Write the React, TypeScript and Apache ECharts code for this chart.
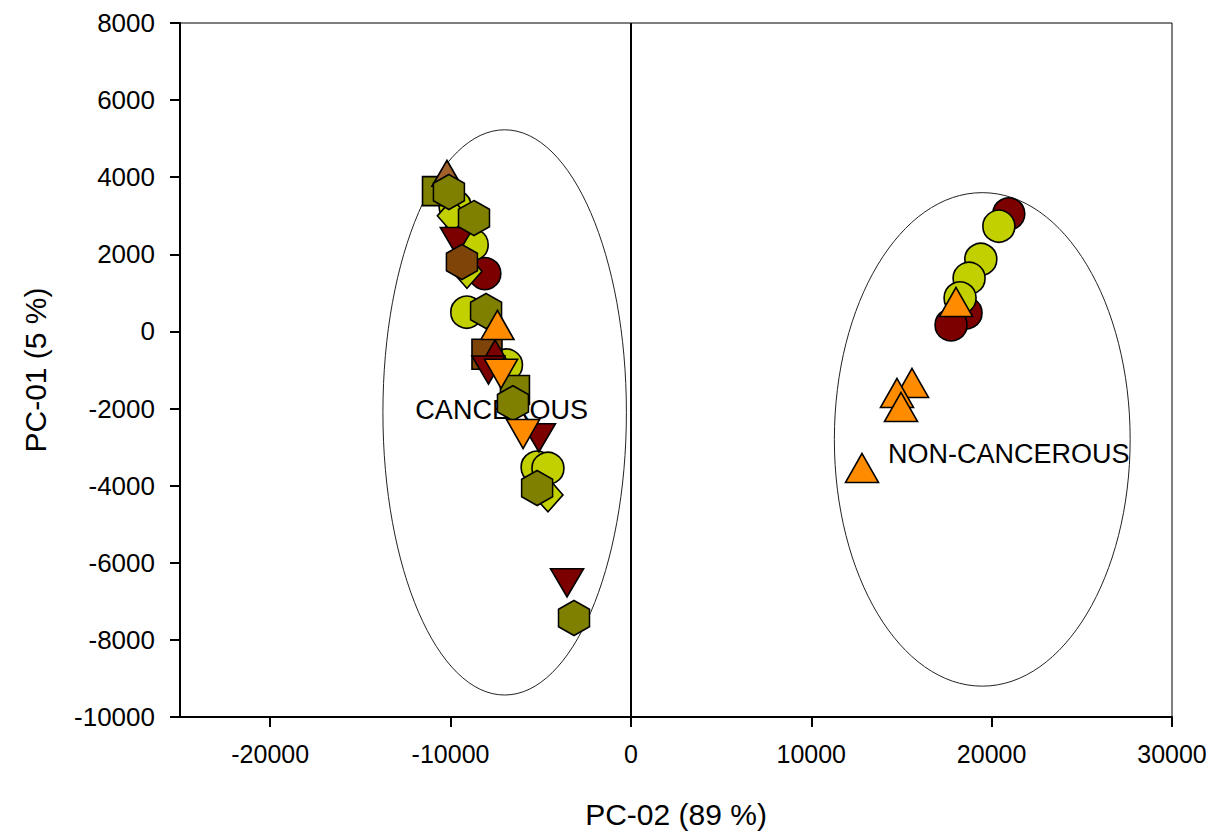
import React, { useEffect, useRef } from "react";
import * as echarts from "echarts";

// ---- data (PC-02 on x, PC-01 on y) ----
const xTickValues = [-20000, -10000, 0, 10000, 20000, 30000];

const darkRedCircles = [[-8100, 1500], [20950, 3050], [18580, 480], [17750, 170]];
const yellowGreenCircles = [
  [-9750, 3250], [-8800, 2250], [-9100, 500], [-6900, -870], [-5200, -3520], [-4600, -3550],
  [20400, 2730], [19400, 1870], [18750, 1380], [18250, 870],
];
const oliveSquares = [[-10750, 3640], [-6430, -1520]];
const brownSquares = [[-7980, -590]];
const darkRedDiamonds = [[-9590, 2630]];
const yellowGreenDiamonds = [[-9900, 3000], [-9090, 1560], [-4600, -4240]];
const brownTrianglesUp = [[-10200, 4100]];
const darkRedTrianglesUp = [[-7530, -560]];
const darkRedTrianglesDown = [[-9650, 2330], [-7900, -1000], [-5100, -2760], [-3540, -6520]];
const oliveHexagons = [[-10090, 3615], [-8700, 2940], [-8030, 530], [-6540, -1860], [-5200, -4060], [-3155, -7433]];
const brownHexagons = [[-9370, 1800]];
const orangeTrianglesUp = [[-7400, 170], [18025, 763], [15585, -1338], [14753, -1597], [14975, -1960], [12813, -3542]];
const orangeTrianglesDown = [[-7200, -1100], [-5980, -2660]];

// group ellipses: [centerX, centerY, radiusX, radiusY]
const groupEllipses = [[-7000, -2100, 6750, 7330], [19480, -2800, 8200, 6400]];
const groupLabels = [
  { name: "CANCEROUS", value: [-11950, -2050] },
  { name: "NON-CANCEROUS", value: [14250, -3180] },
];

const COLORS = {
  darkRed: "#7d0000",
  yellowGreen: "#c2d000",
  olive: "#7f7f00",
  brown: "#7f4508",
  orange: "#ff8c00",
};

const HEX = "path://M50,0 L93.3,25 L93.3,75 L50,100 L6.7,75 L6.7,25 Z";
const FONT = "Liberation Sans, Arial, sans-serif";

function scatter(name: string, data: number[][], color: string, symbol: string, size: any, rotate = 0) {
  return {
    name,
    type: "scatter",
    data,
    symbol,
    symbolSize: size,
    symbolRotate: rotate,
    z: 3,
    itemStyle: { color, borderColor: "#000", borderWidth: 1.6, opacity: 1 },
    emphasis: { disabled: true },
  };
}

export default function App() {
  const ref = useRef<HTMLDivElement>(null);
  useEffect(() => {
    if (!ref.current) return;
    const chart = echarts.init(ref.current, undefined, { renderer: "svg" });
    chart.setOption({
      animation: false,
      backgroundColor: "#fff",
      grid: { left: 180, right: 52, top: 23, bottom: 117, show: true, borderColor: "#000", borderWidth: 1, backgroundColor: "transparent" },
      xAxis: {
        type: "value",
        min: -25000,
        max: 30000,
        splitLine: { show: false },
        axisLine: { onZero: false, lineStyle: { color: "#000", width: 2 } },
        axisTick: { show: true, inside: false, length: 10, customValues: xTickValues, lineStyle: { color: "#000", width: 2 } },
        axisLabel: { customValues: xTickValues, color: "#000", fontSize: 25, fontFamily: FONT, margin: 24, formatter: (v: number) => String(v) },
        name: "PC-02 (89 %)",
        nameLocation: "middle",
        nameGap: 82,
        nameTextStyle: { color: "#000", fontSize: 30, fontFamily: FONT },
      },
      yAxis: {
        type: "value",
        min: -10000,
        max: 8000,
        interval: 2000,
        splitLine: { show: false },
        axisLine: { onZero: false, lineStyle: { color: "#000", width: 2 } },
        axisTick: { show: true, inside: false, length: 10, lineStyle: { color: "#000", width: 2 } },
        axisLabel: { color: "#000", fontSize: 26, fontFamily: FONT, margin: 25, formatter: (v: number) => String(v) },
        name: "PC-01 (5 %)",
        nameLocation: "middle",
        nameGap: 130,
        nameRotate: 90,
        nameTextStyle: { color: "#000", fontSize: 30, fontFamily: FONT },
      },
      series: [
        {
          type: "custom",
          name: "ellipses",
          data: groupEllipses,
          z: 1,
          silent: true,
          encode: { x: 0, y: 1 },
          renderItem: (params: any, api: any) => {
            const c = api.coord([api.value(0), api.value(1)]);
            const s = api.size([api.value(2), api.value(3)]);
            return {
              type: "ellipse",
              shape: { cx: c[0], cy: c[1], rx: s[0], ry: s[1] },
              style: { fill: "none", stroke: "#222", lineWidth: 1 },
            };
          },
          markLine: {
            silent: true,
            symbol: "none",
            label: { show: false },
            lineStyle: { color: "#000", width: 2, type: "solid" },
            data: [{ xAxis: 0 }],
          },
        },
        {
          type: "scatter",
          name: "labels",
          data: groupLabels,
          symbolSize: 0,
          z: 1,
          silent: true,
          itemStyle: { opacity: 1 },
          label: {
            show: true,
            position: "right",
            distance: 0,
            formatter: "{b}",
            color: "#000",
            opacity: 1,
            textBorderWidth: 0,
            fontSize: 27,
            fontFamily: FONT,
          },
        },
        scatter("darkRedCircle", darkRedCircles, COLORS.darkRed, "circle", 32),
        scatter("yellowGreenCircle", yellowGreenCircles, COLORS.yellowGreen, "circle", 32),
        scatter("oliveSquare", oliveSquares, COLORS.olive, "rect", 29),
        scatter("brownSquare", brownSquares, COLORS.brown, "rect", 30),
        scatter("darkRedDiamond", darkRedDiamonds, COLORS.darkRed, "diamond", [30, 34]),
        scatter("yellowGreenDiamond", yellowGreenDiamonds, COLORS.yellowGreen, "diamond", [30, 34]),
        scatter("brownTriangleUp", brownTrianglesUp, "#a0622a", "triangle", [30, 26]),
        scatter("darkRedTriangleUp", darkRedTrianglesUp, COLORS.darkRed, "triangle", [30, 26]),
        scatter("darkRedTriangleDown", darkRedTrianglesDown, COLORS.darkRed, "triangle", [33, 28], 180),
        scatter("oliveHexagon", oliveHexagons, COLORS.olive, HEX, [31, 35]),
        scatter("brownHexagon", brownHexagons, COLORS.brown, HEX, [31, 35]),
        scatter("orangeTriangleUp", orangeTrianglesUp, COLORS.orange, "triangle", [33, 29]),
        scatter("orangeTriangleDown", orangeTrianglesDown, COLORS.orange, "triangle", [33, 29], 180),
      ],
    });
    return () => chart.dispose();
  }, []);
  return <div ref={ref} style={{ position: "fixed", left: 0, top: 0, width: 1224, height: 834 }} />;
}
